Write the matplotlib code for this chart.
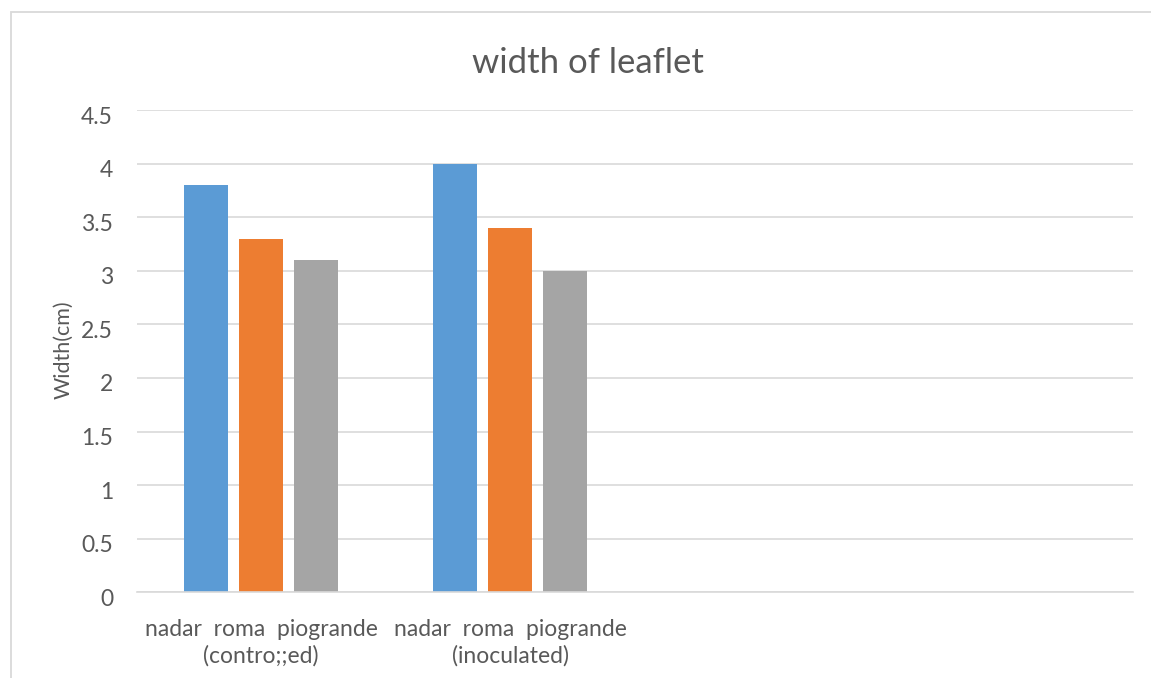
import matplotlib
matplotlib.use("Agg")
import matplotlib.pyplot as plt
import matplotlib.transforms as mtransforms
from matplotlib.patches import Rectangle
import numpy as np

# ---- data ----
categories = ["nadar  roma  piogrande\n(contro;;ed)", "nadar  roma  piogrande\n(inoculated)", "", ""]
series_names = ["nadar", "roma", "piogrande"]
nadar_vals = [3.8, 4.0]
roma_vals = [3.3, 3.4]
piogrande_vals = [3.1, 3.0]
yticks = [0, 0.5, 1, 1.5, 2, 2.5, 3, 3.5, 4, 4.5]
ytick_labels = ["0", "0.5", "1", "1.5", "2", "2.5", "3", "3.5", "4", "4.5"]
title = "width of leaflet"
ylabel = "Width(cm)"

colors = ["#5B9BD5", "#ED7D31", "#A5A5A5"]
text_color = "#595959"
grid_color = "#D9D9D9"

plt.rcParams['font.family'] = ['Lato', 'DejaVu Sans']

W, H = 1151, 678
fig = plt.figure(figsize=(W / 100, H / 100), dpi=100)
fig.patch.set_facecolor("white")

# chart border (partially clipped in the reference)
fig.patches.append(Rectangle((10.5 / W, -0.1), 1.2, 1 - 11.5 / H + 0.1,
                             transform=fig.transFigure, fill=False,
                             edgecolor=grid_color, linewidth=1.3))

left, right = 136.7 / W, 1133 / W
bottom, top = 1 - 592.3 / H, 1 - 110 / H
ax = fig.add_axes([left, bottom, right - left, top - bottom])
ax.set_facecolor("none")

x = np.arange(len(nadar_vals))
step = 0.2208
width = 0.1766
for i, vals in enumerate([nadar_vals, roma_vals, piogrande_vals]):
    ax.bar(x + (i - 1) * step, vals, width=width, color=colors[i], zorder=3, label=series_names[i])

ax.set_xlim(-0.5, len(categories) - 0.5)
ax.set_ylim(0, 4.5)
ax.set_yticks(yticks)
ax.set_yticklabels(ytick_labels)
ax.set_xticks(np.arange(len(categories)))
ax.set_xticklabels(categories, linespacing=1.3)

ax.grid(axis="y", color=grid_color, linewidth=1.2, zorder=0)
for s in ["top", "right", "left"]:
    ax.spines[s].set_visible(False)
ax.spines["bottom"].set_color(grid_color)
ax.spines["bottom"].set_linewidth(1.2)
ax.spines["bottom"].set_zorder(4)

ax.tick_params(axis="both", length=0, colors=text_color)
ax.tick_params(axis="y", pad=17, labelsize=16.5)
ax.tick_params(axis="x", pad=19, labelsize=16.5)
off = mtransforms.ScaledTranslation(0, -5 / 100, fig.dpi_scale_trans)
for lab in ax.get_yticklabels():
    lab.set_transform(lab.get_transform() + off)

fig.text(587.5 / W, 1 - 63 / H, title, ha="center", va="center",
         fontsize=25, color=text_color)
fig.text(64 / W, 1 - 350 / H, ylabel, ha="center", va="center",
         rotation=90, rotation_mode="anchor", fontsize=15.5, color=text_color)

fig.savefig("out.png", dpi=100, facecolor="white")
